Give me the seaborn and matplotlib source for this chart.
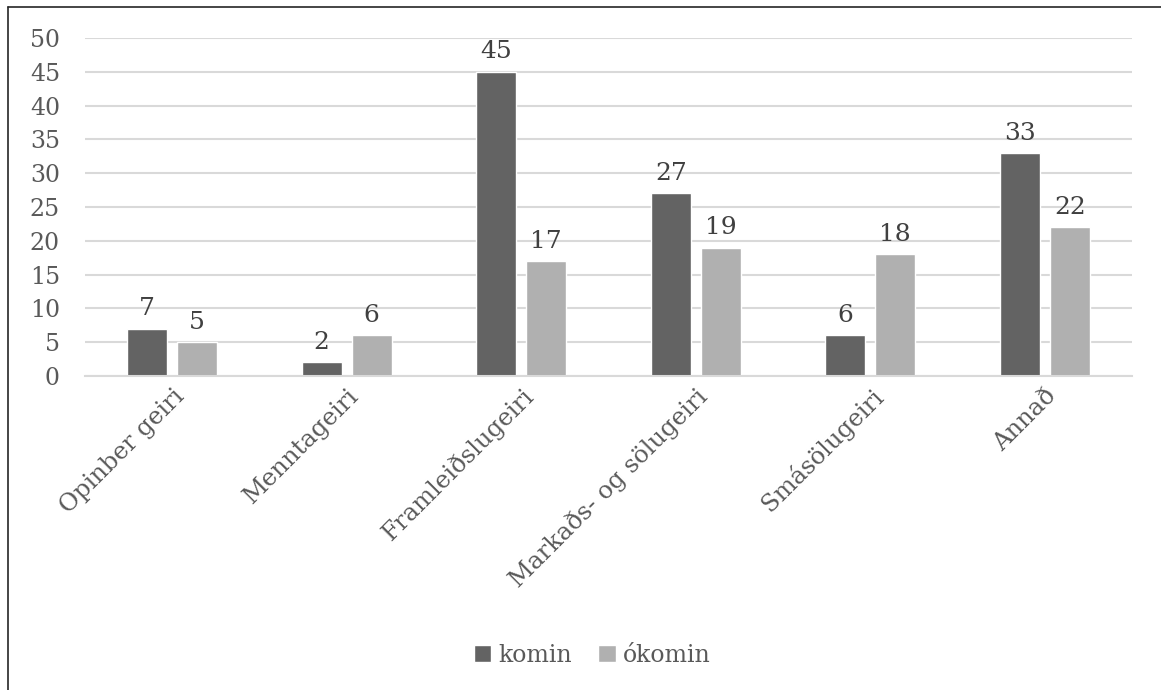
import matplotlib
matplotlib.use("Agg")
import matplotlib.pyplot as plt
import seaborn as sns
import pandas as pd
from matplotlib.lines import Line2D

categories = ["Opinber geiri", "Menntageiri", "Framleiðslugeiri",
              "Markaðs- og sölugeiri", "Smásölugeiri", "Annað"]
komin = [7, 2, 45, 27, 6, 33]
okomin = [5, 6, 17, 19, 18, 22]
series_names = ["komin", "ókomin"]
yticks = [0, 5, 10, 15, 20, 25, 30, 35, 40, 45, 50]

df = pd.DataFrame({
    "flokkur": categories * 2,
    "gildi": komin + okomin,
    "hópur": [series_names[0]] * len(categories) + [series_names[1]] * len(categories),
})

sns.set_theme(style="white")
plt.rcParams["font.family"] = ["DejaVu Serif"]
text_color = "#595959"
grid_color = "#d9d9d9"
palette = {"komin": "#636363", "ókomin": "#b0b0b0"}

W, H = 1161, 690
fig = plt.figure(figsize=(W / 100, H / 100), dpi=100)
ax = fig.add_axes([85 / W, 1 - 376 / H, (1132 - 85) / W, (376 - 38) / H])

sns.barplot(data=df, x="flokkur", y="gildi", hue="hópur", palette=palette,
            width=0.574, gap=0.2, ax=ax, legend=True, saturation=1)

ax.set_ylim(0, 50)
ax.set_xlim(-0.5, len(categories) - 0.5)
ax.set_yticks(yticks)
ax.yaxis.grid(True, color=grid_color, linewidth=1.5)
ax.set_axisbelow(True)
for side in ["top", "right", "left"]:
    ax.spines[side].set_visible(False)
ax.spines["bottom"].set_color(grid_color)
ax.spines["bottom"].set_linewidth(1.5)
ax.tick_params(axis="both", length=0, colors=text_color)
ax.tick_params(axis="y", pad=18, labelsize=17)
ax.tick_params(axis="x", pad=6, labelsize=17.5)
ax.set_xlabel("")
ax.set_ylabel("")
for lbl in ax.get_xticklabels():
    lbl.set_rotation(45)
    lbl.set_ha("right")
    lbl.set_rotation_mode("anchor")

for container in ax.containers:
    ax.bar_label(container, fmt="%g", padding=6, color="#404040", fontsize=18)

handles, labels = ax.get_legend_handles_labels()
ax.legend_.remove()
fig.legend(handles, labels, loc="center", bbox_to_anchor=(592 / W, 1 - 655 / H),
           ncol=2, frameon=False, fontsize=17, labelcolor=text_color,
           handlelength=0.75, handleheight=0.75, handletextpad=0.3, columnspacing=1.1)

# outer frame: top and left edges only
fig.add_artist(Line2D([8 / W, 1], [1 - 7 / H, 1 - 7 / H], transform=fig.transFigure,
                      color="#262626", linewidth=1.2))
fig.add_artist(Line2D([8 / W, 8 / W], [0, 1 - 7 / H], transform=fig.transFigure,
                      color="#262626", linewidth=1.2))

fig.savefig("out.png", dpi=100)
